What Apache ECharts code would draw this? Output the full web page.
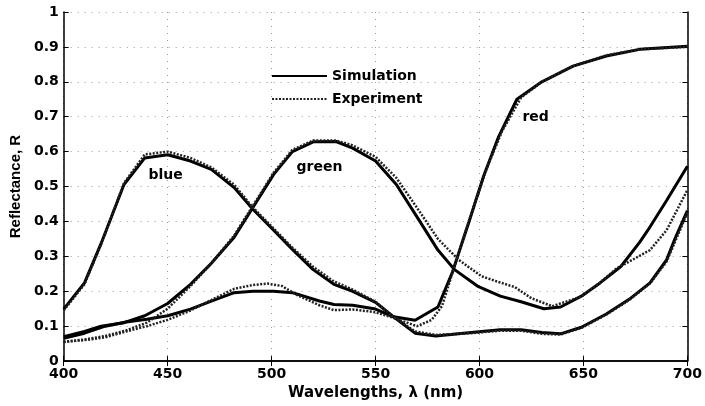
<!DOCTYPE html>
<html>
<head>
<meta charset="utf-8">
<script src="https://cdn.jsdelivr.net/npm/echarts@6/dist/echarts.min.js"></script>
<style>
  html, body { margin: 0; padding: 0; background: #fff; }
  #chart { width: 705px; height: 406px; }
</style>
</head>
<body>
<div id="chart"></div>
<script>
// Reflectance spectra: simulated (solid) and measured (dotted) for three colours.
const xTicks = [400, 450, 500, 550, 600, 650, 700];

const blueSimWl  = [400, 410, 418, 429, 439, 450, 461, 471, 482, 491, 501, 510, 520, 530, 539, 550, 558, 569, 579, 596, 610, 620, 630, 639, 649, 661, 672, 682, 690, 694, 700];
const blueSimR   = [0.149, 0.224, 0.337, 0.506, 0.582, 0.591, 0.573, 0.549, 0.497, 0.435, 0.375, 0.32, 0.262, 0.22, 0.2, 0.168, 0.13, 0.08, 0.072, 0.082, 0.09, 0.09, 0.082, 0.078, 0.097, 0.135, 0.177, 0.224, 0.29, 0.35, 0.431];
const blueExpWl  = [400, 410, 418, 429, 439, 450, 461, 471, 482, 491, 501, 510, 520, 530, 539, 550, 558, 569, 579, 596, 610, 620, 630, 639, 649, 661, 672, 682, 690, 700];
const blueExpR   = [0.145, 0.22, 0.335, 0.51, 0.592, 0.6, 0.582, 0.555, 0.505, 0.44, 0.38, 0.325, 0.27, 0.228, 0.205, 0.17, 0.13, 0.085, 0.075, 0.08, 0.087, 0.087, 0.078, 0.076, 0.095, 0.133, 0.175, 0.222, 0.285, 0.425];

const greenSimWl = [400, 410, 418, 429, 439, 450, 461, 471, 482, 491, 501, 510, 520, 531, 539, 550, 560, 571, 580, 588, 599, 610, 620, 631, 639, 649, 658, 668, 677, 681, 690, 700];
const greenSimR  = [0.07, 0.085, 0.1, 0.11, 0.13, 0.165, 0.22, 0.28, 0.355, 0.44, 0.535, 0.6, 0.628, 0.629, 0.61, 0.573, 0.506, 0.403, 0.318, 0.262, 0.215, 0.186, 0.17, 0.15, 0.155, 0.186, 0.224, 0.271, 0.34, 0.375, 0.46, 0.558];
const greenExpWl = [400, 410, 420, 430, 440, 450, 461, 471, 482, 491, 501, 510, 520, 531, 539, 550, 560, 571, 580, 590, 601, 610, 617, 625, 635, 649, 658, 666, 672, 682, 690, 700];
const greenExpR  = [0.055, 0.062, 0.072, 0.088, 0.11, 0.15, 0.215, 0.28, 0.36, 0.445, 0.54, 0.605, 0.632, 0.632, 0.618, 0.585, 0.525, 0.43, 0.35, 0.29, 0.243, 0.225, 0.212, 0.18, 0.157, 0.185, 0.225, 0.266, 0.285, 0.318, 0.375, 0.49];

const redSimWl   = [400, 410, 420, 430, 440, 450, 461, 471, 482, 491, 501, 510, 523, 530, 539, 550, 558, 569, 580, 587, 595, 602, 609, 618, 630, 645, 661, 677, 700];
const redSimR    = [0.065, 0.08, 0.1, 0.112, 0.12, 0.13, 0.149, 0.172, 0.196, 0.2, 0.2, 0.196, 0.172, 0.162, 0.16, 0.149, 0.128, 0.117, 0.155, 0.255, 0.4, 0.53, 0.64, 0.75, 0.8, 0.845, 0.874, 0.893, 0.902];
const redExpWl   = [400, 410, 420, 430, 440, 450, 461, 471, 482, 491, 498, 505, 512, 523, 530, 539, 550, 558, 570, 577, 582, 590, 597, 604, 611, 620, 630, 645, 661, 677, 700];
const redExpR    = [0.055, 0.06, 0.068, 0.085, 0.1, 0.118, 0.145, 0.175, 0.207, 0.218, 0.222, 0.215, 0.19, 0.16, 0.146, 0.148, 0.14, 0.125, 0.1, 0.118, 0.158, 0.31, 0.44, 0.56, 0.66, 0.755, 0.8, 0.845, 0.876, 0.893, 0.9];

const curveLabels = ['blue', 'green', 'red'];
const legendNames = ['Simulation', 'Experiment'];

const pairs = (wl, r) => wl.map((w, i) => [w, r[i]]);

const FONT = 'DejaVu Sans';

function simSeries(wl, r) {
  return {
    name: legendNames[0], type: 'line', data: pairs(wl, r),
    symbol: 'none', smooth: false, z: 3,
    itemStyle: { color: '#000' },
    lineStyle: { color: '#000', width: 3, type: 'solid' }
  };
}
function expSeries(wl, r) {
  return {
    name: legendNames[1], type: 'line', data: pairs(wl, r),
    symbol: 'none', smooth: false, z: 4,
    itemStyle: { color: '#222' },
    lineStyle: { color: '#222', width: 2.5, type: [2, 1.5] }
  };
}

const chart = echarts.init(document.getElementById('chart'), null, { renderer: 'canvas' });

const gridLine = { show: true, lineStyle: { color: '#999', type: [1, 6], width: 1 } };
const tickLabel = { color: '#000', fontFamily: FONT, fontWeight: 'bold', fontSize: 14 };
const frameLine = { show: true, lineStyle: { color: '#000', width: 1.5 } };
const innerTick = { show: true, inside: true, length: 5, lineStyle: { color: '#000' } };

chart.setOption({
  animation: false,
  backgroundColor: '#fff',
  grid: { left: 59, right: 17, top: 12, bottom: 40, containLabel: false },
  legend: {
    data: legendNames,
    orient: 'vertical',
    left: 266, top: 64,
    itemWidth: 55, itemHeight: 14, itemGap: 9,
    itemStyle: { opacity: 0 },
    textStyle: { color: '#000', fontFamily: FONT, fontWeight: 'bold', fontSize: 14 }
  },
  xAxis: [{
    type: 'value', min: 400, max: 700, interval: 50,
    name: 'Wavelengths, \u03bb (nm)', nameLocation: 'middle', nameGap: 20,
    nameTextStyle: { color: '#000', fontFamily: FONT, fontWeight: 'bold', fontSize: 15 },
    axisLine: frameLine, axisTick: innerTick,
    axisLabel: Object.assign({ margin: 6 }, tickLabel),
    splitLine: gridLine
  }, {
    type: 'value', min: 400, max: 700, interval: 50, position: 'top',
    axisLine: frameLine, axisTick: innerTick,
    axisLabel: { show: false }, splitLine: { show: false }
  }],
  yAxis: [{
    type: 'value', min: 0, max: 1, interval: 0.1,
    name: 'Reflectance, R', nameLocation: 'middle', nameGap: 34, nameRotate: 90,
    nameTextStyle: { color: '#000', fontFamily: 'Liberation Sans Narrow, Liberation Sans', fontWeight: 'bold', fontSize: 15 },
    axisLine: frameLine, axisTick: innerTick,
    axisLabel: Object.assign({ margin: 5 }, tickLabel),
    splitLine: gridLine
  }, {
    type: 'value', min: 0, max: 1, interval: 0.1, position: 'right',
    axisLine: frameLine, axisTick: innerTick,
    axisLabel: { show: false }, splitLine: { show: false }
  }],
  series: [
    expSeries(blueExpWl, blueExpR),
    expSeries(greenExpWl, greenExpR),
    expSeries(redExpWl, redExpR),
    simSeries(blueSimWl, blueSimR),
    simSeries(greenSimWl, greenSimR),
    simSeries(redSimWl, redSimR)
  ]
});

// Curve names placed next to each reflectance peak, in axis coordinates.
const labelAnchors = [[449, 0.531], [523, 0.556], [627, 0.698]];
chart.setOption({
  graphic: curveLabels.map((t, i) => {
    const p = chart.convertToPixel({ xAxisIndex: 0, yAxisIndex: 0 }, labelAnchors[i]);
    return {
      type: 'text', x: p[0], y: p[1], z: 10,
      style: { text: t, fill: '#000', font: 'bold 14px "' + FONT + '"', align: 'center', verticalAlign: 'middle' }
    };
  })
});
</script>
</body>
</html>
